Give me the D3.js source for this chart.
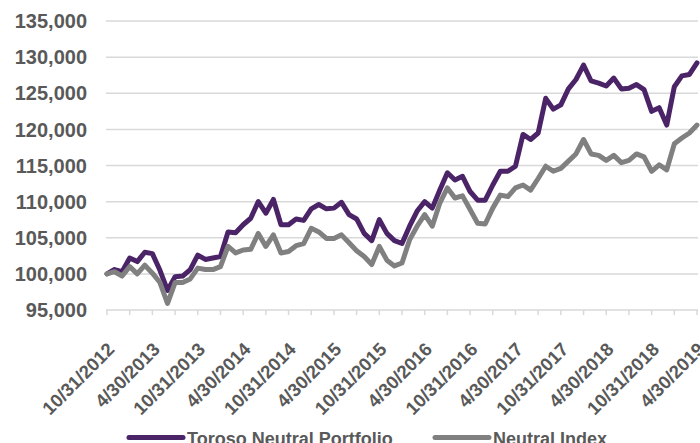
<!DOCTYPE html>
<html>
<head>
<meta charset="utf-8">
<script src="https://cdn.jsdelivr.net/npm/d3@7"></script>
<style>
  html, body { margin: 0; padding: 0; background: #fff; }
  svg { display: block; }
  text { font-family: "Liberation Sans", Arial, sans-serif; font-weight: bold; fill: #595959; }
</style>
</head>
<body>
<svg id="chart" width="700" height="443"></svg>
<script>
const dates = ("10/31/2012 11/30/2012 12/31/2012 " +
  "1/31/2013 2/28/2013 3/31/2013 4/30/2013 5/31/2013 6/30/2013 7/31/2013 8/31/2013 9/30/2013 10/31/2013 11/30/2013 12/31/2013 " +
  "1/31/2014 2/28/2014 3/31/2014 4/30/2014 5/31/2014 6/30/2014 7/31/2014 8/31/2014 9/30/2014 10/31/2014 11/30/2014 12/31/2014 " +
  "1/31/2015 2/28/2015 3/31/2015 4/30/2015 5/31/2015 6/30/2015 7/31/2015 8/31/2015 9/30/2015 10/31/2015 11/30/2015 12/31/2015 " +
  "1/31/2016 2/29/2016 3/31/2016 4/30/2016 5/31/2016 6/30/2016 7/31/2016 8/31/2016 9/30/2016 10/31/2016 11/30/2016 12/31/2016 " +
  "1/31/2017 2/28/2017 3/31/2017 4/30/2017 5/31/2017 6/30/2017 7/31/2017 8/31/2017 9/30/2017 10/31/2017 11/30/2017 12/31/2017 " +
  "1/31/2018 2/28/2018 3/31/2018 4/30/2018 5/31/2018 6/30/2018 7/31/2018 8/31/2018 9/30/2018 10/31/2018 11/30/2018 12/31/2018 " +
  "1/31/2019 2/28/2019 3/31/2019 4/30/2019").split(" ");

const toroso = [
  100000, 100600, 100300, 102200, 101700, 103000, 102800, 100500, 97700, 99600,
  99700, 100600, 102600, 102000, 102200, 102400, 105800, 105700, 106800, 107700,
  110000, 108400, 110300, 106800, 106800, 107600, 107400, 109000, 109600, 109000,
  109100, 109900, 108200, 107600, 105600, 104600, 107500, 105600, 104600, 104200,
  106600, 108700, 110000, 109100, 111600, 114000, 113000, 113500, 111400, 110200,
  110200, 112300, 114200, 114200, 114900, 119300, 118600, 119500, 124300, 122800,
  123400, 125600, 126900, 128900, 126700, 126400, 126000, 127100, 125600, 125700,
  126200, 125500, 122500, 123000, 120600, 125900, 127400, 127600, 129200
];

const neutral = [
  100000, 100300, 99700, 101000, 100000, 101200, 100100, 98800, 95900, 98800,
  98800, 99300, 100800, 100600, 100600, 101000, 103800, 102900, 103300, 103400,
  105600, 103800, 105400, 102900, 103100, 103900, 104200, 106300, 105800, 104900,
  104900, 105400, 104300, 103200, 102400, 101300, 103800, 101900, 101100, 101500,
  104700, 106600, 108200, 106600, 109800, 111900, 110500, 110800, 108900, 107000,
  106900, 109100, 110900, 110700, 111900, 112300, 111600, 113200, 114900, 114200,
  114600, 115600, 116600, 118600, 116600, 116400, 115700, 116400, 115400, 115700,
  116600, 116200, 114200, 115100, 114400, 118000, 118800, 119500, 120600
];

const yTicks = [95000, 100000, 105000, 110000, 115000, 120000, 125000, 130000, 135000];
const xLabels = ["10/31/2012", "4/30/2013", "10/31/2013", "4/30/2014", "10/31/2014", "4/30/2015",
  "10/31/2015", "4/30/2016", "10/31/2016", "4/30/2017", "10/31/2017", "4/30/2018", "10/31/2018", "4/30/2019"];
const seriesNames = ["Toroso Neutral Portfolio", "Neutral Index"];
const seriesColors = ["#4B2468", "#808080"];

const svg = d3.select("#chart");
const x = d3.scalePoint().domain(dates).range([107, 697]);
const y = d3.scaleLinear().domain([95000, 135000]).range([310, 21]);

// gridlines
svg.append("g").selectAll("line").data(yTicks).join("line")
  .attr("x1", 106).attr("x2", 698)
  .attr("y1", d => y(d)).attr("y2", d => y(d))
  .attr("stroke", "#d9d9d9").attr("stroke-width", 1.5);

// y labels
svg.append("g").selectAll("text").data(yTicks).join("text")
  .attr("x", 87).attr("y", d => y(d)).attr("dy", "0.36em")
  .attr("text-anchor", "end").style("font-size", "20px")
  .text(d => d3.format(",")(d));

// x tick marks every 3 months
const tickDates = dates.filter((d, i) => i % 3 === 0);
svg.append("g").selectAll("line").data(tickDates).join("line")
  .attr("x1", d => x(d)).attr("x2", d => x(d))
  .attr("y1", y(95000)).attr("y2", y(95000) + 5)
  .attr("stroke", "#d9d9d9").attr("stroke-width", 1.5);

// x labels
svg.append("g").selectAll("text").data(xLabels).join("text")
  .attr("transform", d => `translate(${x(d) + 4},${346}) rotate(-45)`)
  .attr("text-anchor", "end").attr("dy", "0.35em")
  .style("font-size", "18.5px")
  .text(d => d);

// lines
const line = d3.line().x((d, i) => x(dates[i])).y(d => y(d));
[toroso, neutral].forEach((s, k) => {
  svg.append("path").datum(s)
    .attr("d", line)
    .attr("fill", "none")
    .attr("stroke", seriesColors[k])
    .attr("stroke-width", 5)
    .attr("stroke-linejoin", "round")
    .attr("stroke-linecap", "round");
});

// legend
const legendX = [129, 435];
const legend = svg.append("g");
seriesNames.forEach((name, k) => {
  legend.append("line")
    .attr("x1", legendX[k]).attr("x2", legendX[k] + 54)
    .attr("y1", 437.5).attr("y2", 437.5)
    .attr("stroke", seriesColors[k]).attr("stroke-width", 5)
    .attr("stroke-linecap", "round");
  legend.append("text")
    .attr("x", legendX[k] + 58).attr("y", 444.5)
    .style("font-size", "18px")
    .text(name);
});
</script>
</body>
</html>
